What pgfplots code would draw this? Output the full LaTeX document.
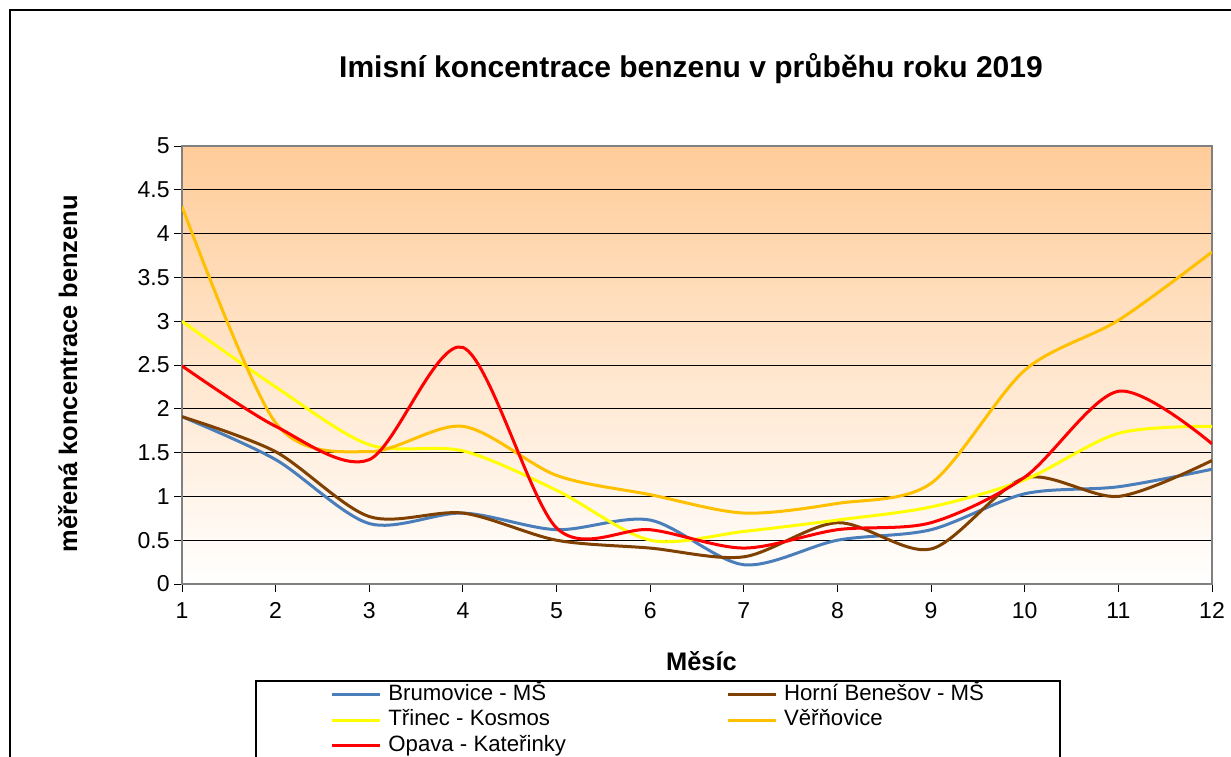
\documentclass[border=0pt]{standalone}
\usepackage{pgfplots}
\pgfplotsset{compat=1.18}
\usepackage{fontspec}
\setmainfont{Liberation Sans}
\definecolor{cBlue}{RGB}{74,126,187}
\definecolor{cBrown}{RGB}{128,64,0}
\definecolor{cYellow}{RGB}{255,255,0}
\definecolor{cOrange}{RGB}{255,192,0}
\definecolor{cRed}{RGB}{255,0,0}
\definecolor{peach}{RGB}{255,204,153}
\definecolor{frameGray}{RGB}{128,128,128}
\begin{document}
\begin{tikzpicture}
\path[use as bounding box] (0,0) rectangle (615.5pt,378pt);
\draw[black, line width=0.6pt] (5pt,373pt) rectangle (640pt,-20pt);
\begin{axis}[
  at={(91pt,86pt)}, anchor=south west,
  scale only axis, width=515pt, height=219pt,
  xmin=1, xmax=12, ymin=0, ymax=5,
  xtick={1,2,3,4,5,6,7,8,9,10,11,12},
  ytick={0,0.5,1,1.5,2,2.5,3,3.5,4,4.5,5},
  yticklabels={0,0.5,1,1.5,2,2.5,3,3.5,4,4.5,5},
  xtick pos=bottom, ytick pos=left,
  tick align=outside, major tick length=4pt,
  tick style={black, line width=0.5pt},
  ymajorgrids, grid style={black, line width=0.5pt},
  axis line style={frameGray, line width=0.8pt},
  axis background/.style={top color=peach, bottom color=white},
  tick label style={font=\fontsize{11.5}{13}\selectfont},
  /pgf/number format/assume math mode=true,
  yticklabel style={inner sep=0pt, xshift=-2pt},
  xticklabel style={inner sep=0pt, yshift=-5pt},
  legend columns=2,
  legend style={at={(0.1437,-0.2285)}, anchor=north west, draw=none, fill=none,
    inner sep=0pt, row sep=2.25pt,
    font=\fontsize{11.1}{13}\selectfont,
    nodes={inner sep=0pt, text height=8pt, text depth=2.5pt},
    /tikz/every odd column/.append style={column sep=3.5pt},
    /tikz/every even column/.append style={column sep=80pt}},
  legend cell align=left,
  legend image code/.code={\draw[#1] (0pt,0pt) -- (24pt,0pt);},
  every axis plot/.append style={line width=1.5pt, smooth, tension=0.5},
]
\addplot[cBlue] coordinates {(1,1.91)(2,1.42)(3,0.69)(4,0.81)(5,0.62)(6,0.73)(7,0.22)(8,0.5)(9,0.62)(10,1.03)(11,1.11)(12,1.31)};
\addlegendentry{Brumovice - MŠ}
\addplot[cBrown] coordinates {(1,1.91)(2,1.51)(3,0.77)(4,0.81)(5,0.5)(6,0.41)(7,0.31)(8,0.7)(9,0.4)(10,1.21)(11,1.0)(12,1.41)};
\addlegendentry{Horní Benešov - MŠ}
\addplot[cYellow] coordinates {(1,3.0)(2,2.25)(3,1.59)(4,1.52)(5,1.07)(6,0.5)(7,0.6)(8,0.73)(9,0.88)(10,1.19)(11,1.72)(12,1.8)};
\addlegendentry{Třinec - Kosmos}
\addplot[cOrange] coordinates {(1,4.31)(2,1.84)(3,1.51)(4,1.8)(5,1.24)(6,1.02)(7,0.81)(8,0.92)(9,1.15)(10,2.44)(11,3.01)(12,3.79)};
\addlegendentry{Věřňovice}
\addplot[cRed] coordinates {(1,2.49)(2,1.8)(3,1.42)(4,2.7)(5,0.64)(6,0.62)(7,0.41)(8,0.62)(9,0.7)(10,1.22)(11,2.2)(12,1.6)};
\addlegendentry{Opava - Kateřinky}
\end{axis}
\node[font=\bfseries\fontsize{15}{17}\selectfont, anchor=base] at (345.5pt,339pt) {Imisní koncentrace benzenu v průběhu roku 2019};
\node[font=\bfseries\fontsize{12.7}{14}\selectfont, anchor=base] at (350.75pt,43pt) {Měsíc};
\node[font=\bfseries\fontsize{12.7}{14}\selectfont, anchor=base, rotate=90] at (38.5pt,191pt) {měřená koncentrace benzenu};
\draw[black, line width=0.6pt] (128pt,-20pt) -- (128pt,37.5pt) -- (530pt,37.5pt) -- (530pt,-20pt);
\end{tikzpicture}
\end{document}
